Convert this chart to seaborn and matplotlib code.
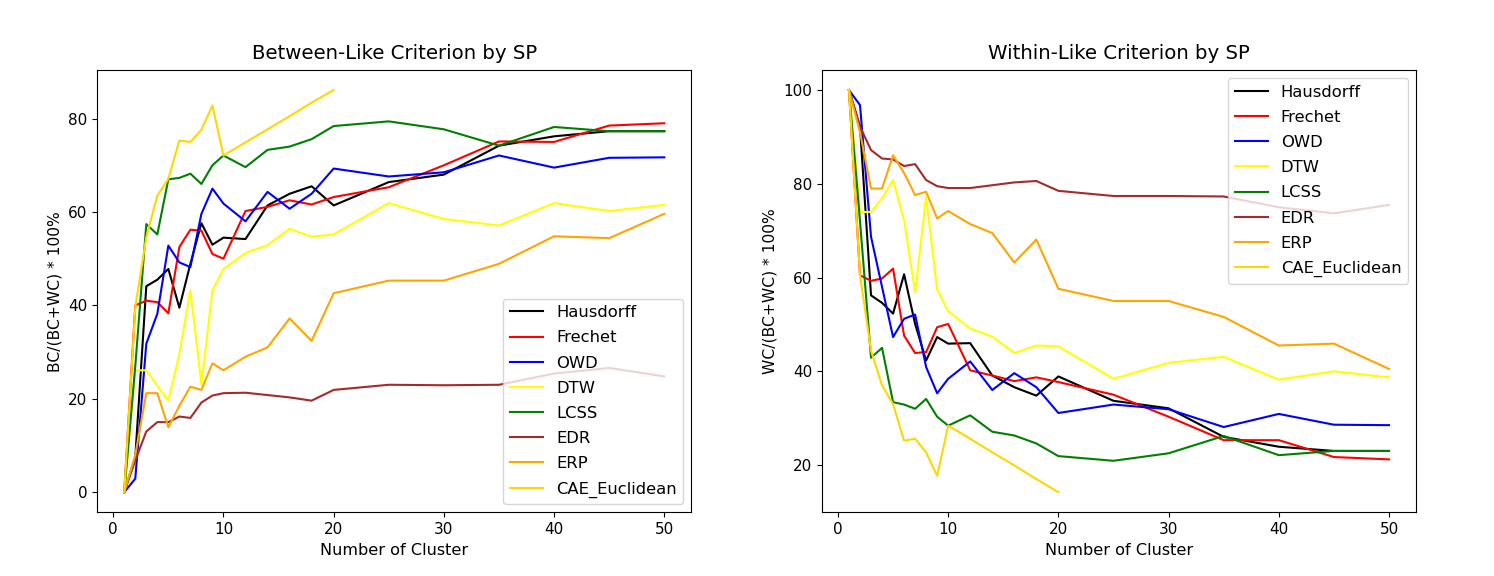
import pandas as pd
import matplotlib
matplotlib.use("Agg")
import matplotlib.pyplot as plt
import seaborn as sns

plt.rcParams["font.family"] = "DejaVu Sans"
plt.rcParams["font.size"] = 11

# número de clusters (CAE_Euclidean só vai até 20)
K = [1, 2, 3, 4, 5, 6, 7, 8, 9, 10, 12, 14, 16, 18, 20, 25, 30, 35, 40, 45, 50]
K_CAE = K[:15]

METODOS = ["Hausdorff", "Frechet", "OWD", "DTW", "LCSS", "EDR", "ERP", "CAE_Euclidean"]
CORES = ["black", "red", "blue", "yellow", "green", "brown", "orange", "gold"]

# ---- Between-like (BC/(BC+WC)) ----
bc_hausdorff = [0, 7.5, 44.1, 45.5, 47.8, 39.5, 48.9, 57.6, 53.0, 54.5, 54.2, 61.4, 63.9, 65.5, 61.4,
                66.4, 68.0, 74.2, 76.2, 77.3, 77.3]
bc_frechet = [0, 40.0, 41.0, 40.7, 38.3, 52.5, 56.2, 56.0, 51.0, 50.0, 60.2, 61.1, 62.5, 61.6, 63.2,
              65.3, 70.0, 75.1, 75.0, 78.5, 79.0]
bc_owd = [0, 2.9, 31.8, 38.2, 52.8, 49.2, 48.2, 59.6, 65.0, 61.8, 58.0, 64.3, 60.7, 63.9, 69.3,
          67.6, 68.5, 72.1, 69.5, 71.6, 71.7]
bc_dtw = [0, 26.1, 26.1, 22.8, 19.6, 29.6, 43.3, 23.0, 43.2, 47.8, 51.2, 52.9, 56.4, 54.7, 55.2,
          61.9, 58.5, 57.1, 61.9, 60.2, 61.5]
bc_lcss = [0, 27.0, 57.4, 55.2, 67.0, 67.3, 68.2, 66.0, 70.0, 72.1, 69.6, 73.3, 74.0, 75.6, 78.4,
           79.4, 77.7, 74.2, 78.2, 77.3, 77.3]
bc_edr = [0, 6.8, 13.0, 15.0, 15.0, 16.2, 15.9, 19.2, 20.7, 21.2, 21.3, 20.8, 20.3, 19.6, 21.9,
          23.0, 22.9, 23.0, 25.4, 26.6, 24.8]
bc_erp = [0, 8.0, 21.2, 21.2, 13.9, 18.5, 22.6, 21.9, 27.6, 26.1, 29.0, 31.0, 37.2, 32.4, 42.6,
          45.3, 45.3, 48.9, 54.8, 54.4, 59.6]
bc_cae = [0, 39.6, 54.6, 63.5, 67.1, 75.3, 75.0, 77.6, 82.8, 72.1, 74.9, 77.7, 80.5, 83.4, 86.1]

# ---- Within-like (WC/(BC+WC)) ----
wc_hausdorff = [100, 92.2, 56.2, 54.6, 52.3, 60.7, 50.1, 42.3, 47.3, 45.9, 46.0, 39.1, 36.6, 34.8, 38.9,
                33.7, 32.1, 26.0, 23.9, 23.0, 23.0]
wc_frechet = [100, 60.5, 59.3, 59.8, 61.9, 47.6, 43.9, 44.1, 49.4, 50.1, 40.2, 39.1, 37.9, 38.7, 37.7,
              35.0, 30.3, 25.3, 25.3, 21.7, 21.2]
wc_owd = [100, 96.8, 68.7, 58.0, 47.3, 51.2, 52.1, 40.9, 35.3, 38.4, 42.1, 36.0, 39.6, 36.6, 31.1,
          32.9, 31.9, 28.1, 30.9, 28.6, 28.5]
wc_dtw = [100, 74.0, 74.0, 76.9, 80.8, 72.2, 56.9, 77.2, 57.4, 52.8, 49.1, 47.4, 43.9, 45.5, 45.3,
          38.4, 41.8, 43.1, 38.2, 40.0, 38.7]
wc_lcss = [100, 72.0, 42.9, 45.0, 33.4, 32.9, 32.0, 34.1, 30.3, 28.4, 30.6, 27.1, 26.3, 24.6, 21.9,
           20.9, 22.5, 26.2, 22.1, 23.0, 23.0]
wc_edr = [100, 92.2, 87.2, 85.4, 85.2, 83.8, 84.2, 80.8, 79.5, 79.1, 79.1, 79.7, 80.3, 80.6, 78.5,
          77.4, 77.4, 77.3, 75.0, 73.7, 75.5]
wc_erp = [100, 91.0, 79.0, 79.0, 86.1, 82.3, 77.6, 78.3, 72.6, 74.2, 71.4, 69.5, 63.2, 68.1, 57.6,
          55.0, 55.0, 51.6, 45.5, 45.9, 40.5]
wc_cae = [100, 60.5, 44.4, 37.0, 33.0, 25.2, 25.6, 22.7, 17.7, 28.4, 25.6, 22.7, 19.9, 17.0, 14.2]

bc = [bc_hausdorff, bc_frechet, bc_owd, bc_dtw, bc_lcss, bc_edr, bc_erp, bc_cae]
wc = [wc_hausdorff, wc_frechet, wc_owd, wc_dtw, wc_lcss, wc_edr, wc_erp, wc_cae]


def monta_df(series):
    linhas = []
    for nome, vals in zip(METODOS, series):
        ks = K_CAE if nome == "CAE_Euclidean" else K
        for k, v in zip(ks, vals):
            linhas.append({"k": k, "valor": v, "metodo": nome})
    return pd.DataFrame(linhas)


paleta = dict(zip(METODOS, CORES))

fig, axes = plt.subplots(1, 2, figsize=(14.94, 5.76), dpi=100)
plt.subplots_adjust(left=0.0651, right=0.9478, bottom=0.1106, top=0.8785, wspace=0.22)

paineis = [
    (axes[0], bc, "Between-Like Criterion by SP", "BC/(BC+WC) * 100%", "lower right"),
    (axes[1], wc, "Within-Like Criterion by SP", "WC/(BC+WC) * 100%", "upper right"),
]

for ax, series, titulo, ylabel, loc in paineis:
    df = monta_df(series)
    sns.lineplot(data=df, x="k", y="valor", hue="metodo", hue_order=METODOS,
                 palette=paleta, errorbar=None, linewidth=1.5, ax=ax)
    ax.set_title(titulo, fontsize=14.2, pad=8)
    ax.set_xlabel("Number of Cluster", fontsize=11.6)
    ax.set_ylabel(ylabel, fontsize=11.2)
    ax.set_xticks([0, 10, 20, 30, 40, 50])
    ax.tick_params(labelsize=11)
    ax.legend(loc=loc, fontsize=11.8, labelspacing=0.62)

plt.savefig("out.png", dpi=100)
